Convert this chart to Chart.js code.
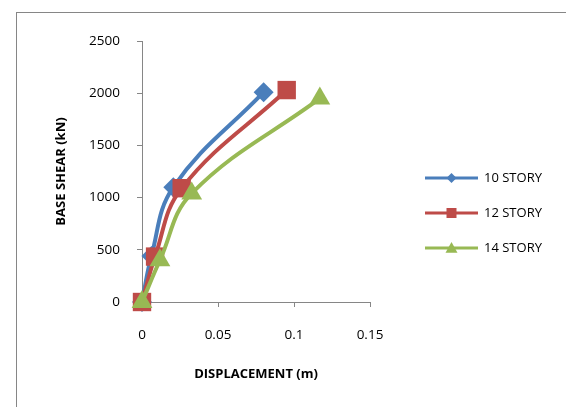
<!DOCTYPE html>
<html>
<head>
<meta charset="utf-8">
<script src="https://cdn.jsdelivr.net/npm/chart.js@4.4.0/dist/chart.umd.min.js"></script>
<style>
  html, body { margin: 0; padding: 0; background: #fff; }
  #wrap { position: relative; width: 566px; height: 407px; overflow: hidden; }
  #frame { position: absolute; left: 16px; top: 12px; width: 620px; height: 420px;
           border: 1px solid #868686; box-sizing: border-box; }
  canvas { position: absolute; left: 0; top: 0; }
</style>
</head>
<body>
<div id="wrap">
  <div id="frame"></div>
  <canvas id="chart" width="566" height="407"></canvas>
</div>
<script>
// values
const seriesNames = ["10 STORY", "12 STORY", "14 STORY"];
const disp10 = [0, 0.0062, 0.0206, 0.080];
const shear10 = [0, 440, 1100, 2010];
const disp12 = [0, 0.0086, 0.0261, 0.0952];
const shear12 = [0, 435, 1090, 2030];
const disp14 = [0, 0.0118, 0.0327, 0.117];
const shear14 = [0, 400, 1040, 1950];
const xTicks = [0, 0.05, 0.1, 0.15];
const yTicks = [0, 500, 1000, 1500, 2000, 2500];

const colors = ["#4A7EBB", "#BE4B48", "#98B954"];
const FONT = "'Open Sans', 'Liberation Sans', sans-serif";

function pts(xs, ys) {
  return xs.map((x, i) => ({ x: x, y: ys[i] }));
}

// excel style legend: short line with the marker on it
const lineLegend = {
  id: "lineLegend",
  afterDraw(chart) {
    const ctx = chart.ctx;
    const sizes = [5, 5, 6];
    chart.data.datasets.forEach((ds, i) => {
      const y = 178 + i * 35;
      const mx = 451.5;
      ctx.save();
      ctx.strokeStyle = ds.borderColor;
      ctx.lineWidth = 3;
      ctx.beginPath();
      ctx.moveTo(425, y);
      ctx.lineTo(478, y);
      ctx.stroke();
      ctx.fillStyle = ds.backgroundColor;
      const r = sizes[i];
      ctx.beginPath();
      if (ds.pointStyle === "rectRot") {
        ctx.moveTo(mx, y - r); ctx.lineTo(mx + r, y); ctx.lineTo(mx, y + r); ctx.lineTo(mx - r, y);
      } else if (ds.pointStyle === "rect") {
        ctx.rect(mx - r, y - r, 2 * r, 2 * r);
      } else {
        ctx.moveTo(mx, y - r); ctx.lineTo(mx + r, y + r * 0.8); ctx.lineTo(mx - r, y + r * 0.8);
      }
      ctx.closePath();
      ctx.fill();
      ctx.fillStyle = "#000";
      ctx.font = "13px " + FONT;
      ctx.textBaseline = "middle";
      ctx.textAlign = "left";
      ctx.fillText(ds.label, 484, y);
      ctx.restore();
    });
  }
};

function ds(i, xs, ys, style, radius, order) {
  return {
    label: seriesNames[i],
    data: pts(xs, ys),
    showLine: true,
    borderColor: colors[i],
    backgroundColor: colors[i],
    borderWidth: 4,
    tension: 0.4,
    pointStyle: style,
    pointRadius: radius,
    pointBorderWidth: 0,
    clip: false,
    order: order
  };
}

new Chart(document.getElementById("chart"), {
  type: "scatter",
  data: {
    datasets: [
      ds(0, disp10, shear10, "rectRot", 10, 3),
      ds(1, disp12, shear12, "rect", 13, 2),
      ds(2, disp14, shear14, "triangle", 12, 1)
    ]
  },
  plugins: [lineLegend],
  options: {
    responsive: false,
    animation: false,
    layout: { padding: { left: 49, top: 41, right: 196, bottom: 21 } },
    plugins: { legend: { display: false }, tooltip: { enabled: false } },
    scales: {
      x: {
        type: "linear",
        min: 0,
        max: 0.15,
        afterBuildTicks: (s) => { s.ticks = xTicks.map((v) => ({ value: v })); },
        afterFit: (s) => { s.height = 84; },
        border: { color: "#868686", width: 1 },
        grid: { drawOnChartArea: false, drawTicks: true, tickLength: 5, color: "#868686" },
        ticks: {
          padding: 20,
          color: "#000",
          font: { family: FONT, size: 13.5 },
          callback: (v) => String(+v.toFixed(2))
        },
        title: {
          display: true,
          text: "DISPLACEMENT (m)",
          color: "#000",
          font: { family: FONT, size: 13, weight: "bold" }
        }
      },
      y: {
        type: "linear",
        min: 0,
        max: 2500,
        afterBuildTicks: (s) => { s.ticks = yTicks.map((v) => ({ value: v })); },
        afterFit: (s) => { s.width = 93; },
        border: { color: "#868686", width: 1 },
        grid: { drawOnChartArea: false, drawTicks: true, tickLength: 5, color: "#868686" },
        ticks: {
          padding: 17,
          color: "#000",
          font: { family: FONT, size: 13.5 },
          callback: (v) => String(v)
        },
        title: {
          display: true,
          text: "BASE SHEAR (kN)",
          color: "#000",
          font: { family: FONT, size: 13, weight: "bold" }
        }
      }
    }
  }
});
</script>
</body>
</html>
